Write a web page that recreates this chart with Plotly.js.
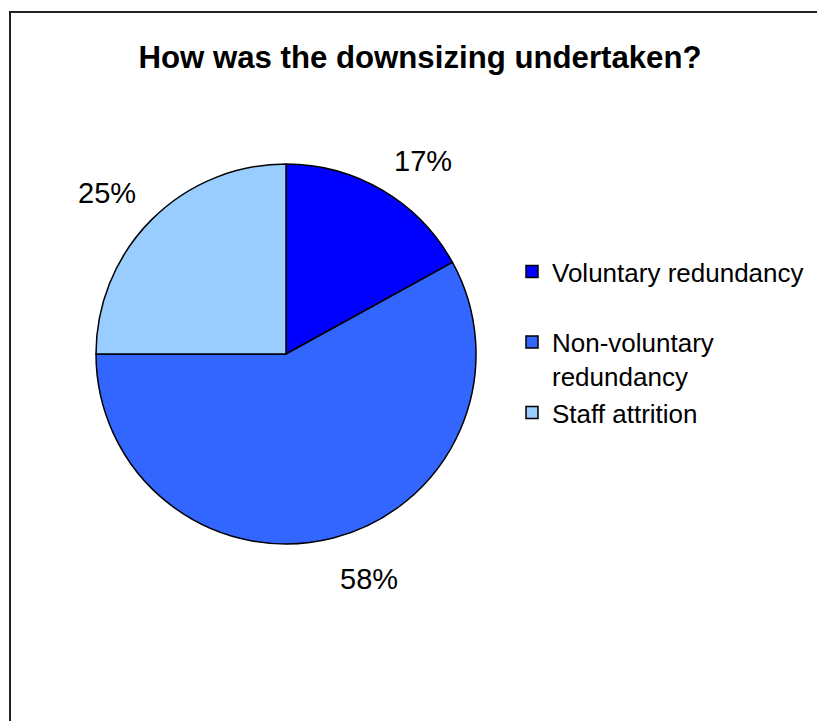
<!DOCTYPE html>
<html>
<head>
<meta charset="utf-8">
<script src="https://cdn.plot.ly/plotly-3.0.1.min.js"></script>
<style>
html,body{margin:0;padding:0;background:#fff;}
#chart{width:817px;height:721px;}
</style>
</head>
<body>
<div id="chart"></div>
<script>
const categories = ["Voluntary redundancy", "Non-voluntary<br>redundancy", "Staff attrition"];
const values = [17, 58, 25];
const colors = ["#0000FF", "#3366FF", "#99CCFF"];
const chartTitle = "How was the downsizing undertaken?";

const W = 817, H = 721;
const cx = 286, cy = 354, r = 190;
const dom = {x: [(cx - r) / W, (cx + r) / W], y: [1 - (cy + r) / H, 1 - (cy - r) / H]};

// legend labels: extra blank line after the first entry to mimic the reference spacing
const legendLabels = categories.map((c, i) => i === 0 ? c + "<br>&nbsp;" : c);

// percent labels placed just outside each slice at its mid-angle
const total = values.reduce((a, b) => a + b, 0);
const labelR = 209;
let cum = 0;
const annotations = values.map(v => {
  const mid = (cum + v / 2) / total;
  cum += v;
  const th = mid * 2 * Math.PI;
  const s = Math.sin(th), c = Math.cos(th);
  const px = cx + labelR * s;
  const py = cy - labelR * c;
  return {
    x: px / W, y: 1 - py / H, xref: "paper", yref: "paper",
    text: Math.round(v / total * 100) + "%", showarrow: false,
    xanchor: s >= 0 ? "left" : "right",
    yanchor: c >= 0 ? "bottom" : "top",
    yshift: -5,
    font: {family: "Liberation Sans, Arial, sans-serif", size: 29, color: "#000"}
  };
});

const data = [{
  type: "pie",
  labels: legendLabels,
  values: values,
  sort: false,
  direction: "clockwise",
  rotation: 0,
  marker: {colors: colors, line: {color: "#000", width: 1.5}},
  textinfo: "none",
  hoverinfo: "label+percent",
  domain: dom
}];

const layout = {
  width: W, height: H,
  margin: {l: 0, r: 0, t: 0, b: 0},
  paper_bgcolor: "#fff",
  showlegend: true,
  title: {
    text: "<b>" + chartTitle + "</b>",
    x: 420 / W, y: 1 - 57 / H, xanchor: "center", yanchor: "middle",
    xref: "paper", yref: "paper",
    font: {family: "Liberation Sans, Arial, sans-serif", size: 31.2, color: "#000"}
  },
  legend: {
    x: 512 / W, y: 1 - 248 / H, xanchor: "left", yanchor: "top",
    valign: "top",
    font: {family: "Liberation Sans, Arial, sans-serif", size: 26, color: "#000"},
    bgcolor: "rgba(0,0,0,0)"
  },
  annotations: annotations,
  shapes: [{
    type: "rect", xref: "paper", yref: "paper",
    x0: 10 / W, x1: 1.05, y0: -0.05, y1: 1 - 12 / H,
    line: {color: "#222", width: 2}, fillcolor: "rgba(0,0,0,0)"
  }]
};

Plotly.newPlot("chart", data, layout, {displayModeBar: false, staticPlot: true});
</script>
</body>
</html>
